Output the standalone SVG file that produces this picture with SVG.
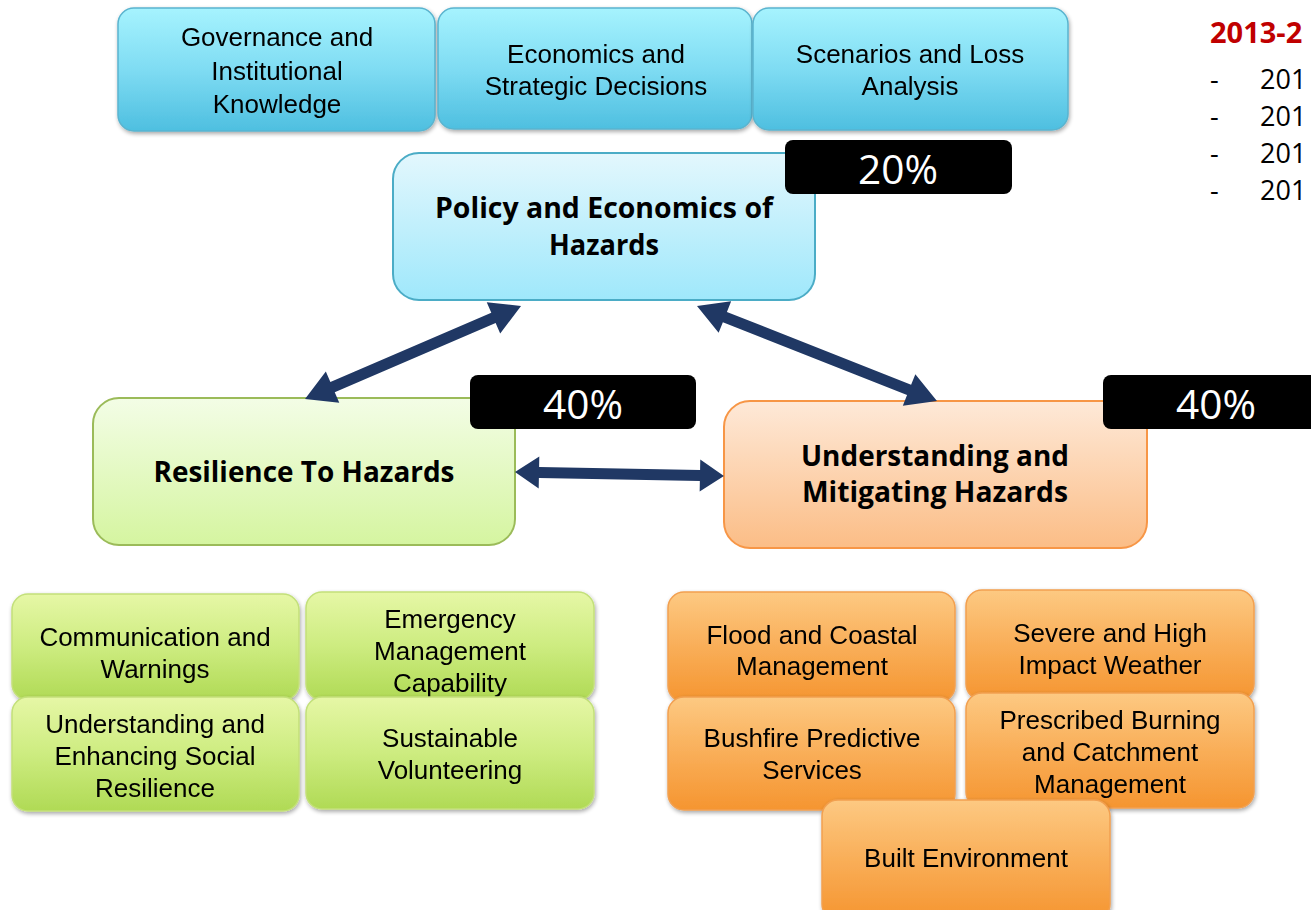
<svg xmlns="http://www.w3.org/2000/svg" width="1311" height="910" viewBox="0 0 1311 910">
<defs>
<linearGradient id="gBlueTop" x1="0" y1="0" x2="0" y2="1">
<stop offset="0" stop-color="#a6f3fe"/><stop offset="0.5" stop-color="#7fdcf3"/><stop offset="1" stop-color="#4ebfe0"/>
</linearGradient>
<linearGradient id="gGreen" x1="0" y1="0" x2="0" y2="1">
<stop offset="0" stop-color="#e6f7a6"/><stop offset="0.5" stop-color="#cdec80"/><stop offset="1" stop-color="#b0da55"/>
</linearGradient>
<linearGradient id="gOrange" x1="0" y1="0" x2="0" y2="1">
<stop offset="0" stop-color="#fdc982"/><stop offset="0.5" stop-color="#f9ae58"/><stop offset="1" stop-color="#f59530"/>
</linearGradient>
<linearGradient id="gPolicy" x1="0" y1="0" x2="0" y2="1">
<stop offset="0" stop-color="#e3f7fd"/><stop offset="1" stop-color="#9fe8fb"/>
</linearGradient>
<linearGradient id="gRes" x1="0" y1="0" x2="0" y2="1">
<stop offset="0" stop-color="#f3fde6"/><stop offset="1" stop-color="#d5f5a0"/>
</linearGradient>
<linearGradient id="gUnd" x1="0" y1="0" x2="0" y2="1">
<stop offset="0" stop-color="#fee9d8"/><stop offset="1" stop-color="#fbbd86"/>
</linearGradient>
<filter id="sh" x="-5%" y="-5%" width="112%" height="120%">
<feGaussianBlur in="SourceAlpha" stdDeviation="2"/>
<feOffset dx="1" dy="2" result="b"/>
<feComponentTransfer><feFuncA type="linear" slope="0.35"/></feComponentTransfer>
<feMerge><feMergeNode/><feMergeNode in="SourceGraphic"/></feMerge>
</filter>
</defs>
<style>
.sm{font-family:"Liberation Sans",Arial,sans-serif;font-size:26px;fill:#000;text-anchor:middle}
.bl{fill:url(#gBlueTop);stroke:#5ab4cf;stroke-width:1.5}
.gr{fill:url(#gGreen);stroke:#c3e07a;stroke-width:1.5}
.or{fill:url(#gOrange);stroke:#f2a050;stroke-width:1.5}
.main{font-family:"Open Sans","Liberation Sans",sans-serif;font-weight:bold;font-size:29px;fill:#000;text-anchor:middle}
.pct{font-family:"Open Sans","Liberation Sans",sans-serif;font-size:41px;fill:#fff;text-anchor:middle}
.tag{fill:#000}
.arr{fill:#203864}
.side{font-family:"Open Sans","Liberation Sans",sans-serif;font-size:27px;fill:#000}
</style>

<g id="governance" filter="url(#sh)">
<rect class="bl" x="118" y="8" width="317" height="123" rx="16"/>
<text class="sm" x="277" y="46">Governance and</text>
<text class="sm" x="277" y="80">Institutional</text>
<text class="sm" x="277" y="113">Knowledge</text>
</g>
<g id="economics" filter="url(#sh)">
<rect class="bl" x="438" y="8" width="314" height="121" rx="16"/>
<text class="sm" x="596" y="63">Economics and</text>
<text class="sm" x="596" y="95">Strategic Decisions</text>
</g>
<g id="scenarios" filter="url(#sh)">
<rect class="bl" x="753" y="8" width="315" height="122" rx="16"/>
<text class="sm" x="910" y="63">Scenarios and Loss</text>
<text class="sm" x="910" y="95">Analysis</text>
</g>

<g id="policy">
<rect x="393" y="153" width="422" height="147" rx="26" fill="url(#gPolicy)" stroke="#4bacc6" stroke-width="2"/>
<text class="main" x="604" y="218" textLength="338" lengthAdjust="spacingAndGlyphs">Policy and Economics of</text>
<text class="main" x="604" y="255" textLength="110" lengthAdjust="spacingAndGlyphs">Hazards</text>
</g>
<g id="tag20">
<rect class="tag" x="785" y="140" width="227" height="54" rx="8"/>
<text class="pct" x="898" y="184" textLength="80" lengthAdjust="spacingAndGlyphs">20%</text>
</g>

<g id="resilience">
<rect x="93" y="398" width="422" height="147" rx="26" fill="url(#gRes)" stroke="#9bbb59" stroke-width="2"/>
<text class="main" x="304" y="482" textLength="301" lengthAdjust="spacingAndGlyphs">Resilience To Hazards</text>
</g>
<g id="tag40a">
<rect class="tag" x="470" y="375" width="226" height="54" rx="8"/>
<text class="pct" x="583" y="419" textLength="80" lengthAdjust="spacingAndGlyphs">40%</text>
</g>

<g id="understanding">
<rect x="724" y="401" width="423" height="147" rx="26" fill="url(#gUnd)" stroke="#f79646" stroke-width="2"/>
<text class="main" x="935" y="466" textLength="268" lengthAdjust="spacingAndGlyphs">Understanding and</text>
<text class="main" x="935" y="502" textLength="266" lengthAdjust="spacingAndGlyphs">Mitigating Hazards</text>
</g>
<g id="tag40b">
<rect class="tag" x="1103" y="375" width="230" height="54" rx="8"/>
<text class="pct" x="1216" y="419" textLength="80" lengthAdjust="spacingAndGlyphs">40%</text>
</g>

<g id="connectors">
<polygon class="arr" transform="translate(305,399) rotate(-23.3)" points="0,0 30,-17 30,-5.5 205.2,-5.5 205.2,-17 235.2,0 205.2,17 205.2,5.5 30,5.5 30,17"/>
<polygon class="arr" transform="translate(697,306) rotate(21.6)" points="0,0 30,-17 30,-5.5 228.1,-5.5 228.1,-17 258.1,0 228.1,17 228.1,5.5 30,5.5 30,17"/>
<polygon class="arr" transform="translate(515,472) rotate(1.1)" points="0,0 24,-16 24,-5.5 185,-5.5 185,-16 209,0 185,16 185,5.5 24,5.5 24,16"/>
</g>

<g id="communication" filter="url(#sh)">
<rect class="gr" x="12" y="594" width="287" height="106" rx="16"/>
<text class="sm" x="155" y="646">Communication and</text>
<text class="sm" x="155" y="678">Warnings</text>
</g>
<g id="emergency" filter="url(#sh)">
<rect class="gr" x="306" y="592" width="288" height="108" rx="16"/>
<text class="sm" x="450" y="628">Emergency</text>
<text class="sm" x="450" y="660">Management</text>
<text class="sm" x="450" y="692">Capability</text>
</g>
<g id="social" filter="url(#sh)">
<rect class="gr" x="12" y="697" width="287" height="114" rx="16"/>
<text class="sm" x="155" y="733">Understanding and</text>
<text class="sm" x="155" y="765">Enhancing Social</text>
<text class="sm" x="155" y="797">Resilience</text>
</g>
<g id="volunteering" filter="url(#sh)">
<rect class="gr" x="306" y="697" width="288" height="112" rx="16"/>
<text class="sm" x="450" y="747">Sustainable</text>
<text class="sm" x="450" y="779">Volunteering</text>
</g>

<g id="flood" filter="url(#sh)">
<rect class="or" x="668" y="592" width="287" height="110" rx="16"/>
<text class="sm" x="812" y="644">Flood and Coastal</text>
<text class="sm" x="812" y="675">Management</text>
</g>
<g id="severe" filter="url(#sh)">
<rect class="or" x="966" y="590" width="288" height="110" rx="16"/>
<text class="sm" x="1110" y="642">Severe and High</text>
<text class="sm" x="1110" y="674">Impact Weather</text>
</g>
<g id="bushfire" filter="url(#sh)">
<rect class="or" x="668" y="697" width="287" height="113" rx="16"/>
<text class="sm" x="812" y="747">Bushfire Predictive</text>
<text class="sm" x="812" y="779">Services</text>
</g>
<g id="prescribed" filter="url(#sh)">
<rect class="or" x="966" y="693" width="288" height="115" rx="16"/>
<text class="sm" x="1110" y="729">Prescribed Burning</text>
<text class="sm" x="1110" y="761">and Catchment</text>
<text class="sm" x="1110" y="793">Management</text>
</g>
<g id="built" filter="url(#sh)">
<rect class="or" x="822" y="800" width="288" height="120" rx="16"/>
<text class="sm" x="966" y="867">Built Environment</text>
</g>

<g id="sidetext">
<text x="1210" y="43" font-family="Open Sans, Liberation Sans, sans-serif" font-weight="bold" font-size="29" fill="#c00000">2013-2</text>
<text class="side" x="1210" y="89">-</text><text class="side" x="1260" y="89">201</text>
<text class="side" x="1210" y="126">-</text><text class="side" x="1260" y="126">201</text>
<text class="side" x="1210" y="163">-</text><text class="side" x="1260" y="163">201</text>
<text class="side" x="1210" y="200">-</text><text class="side" x="1260" y="200">201</text>
</g>
</svg>
